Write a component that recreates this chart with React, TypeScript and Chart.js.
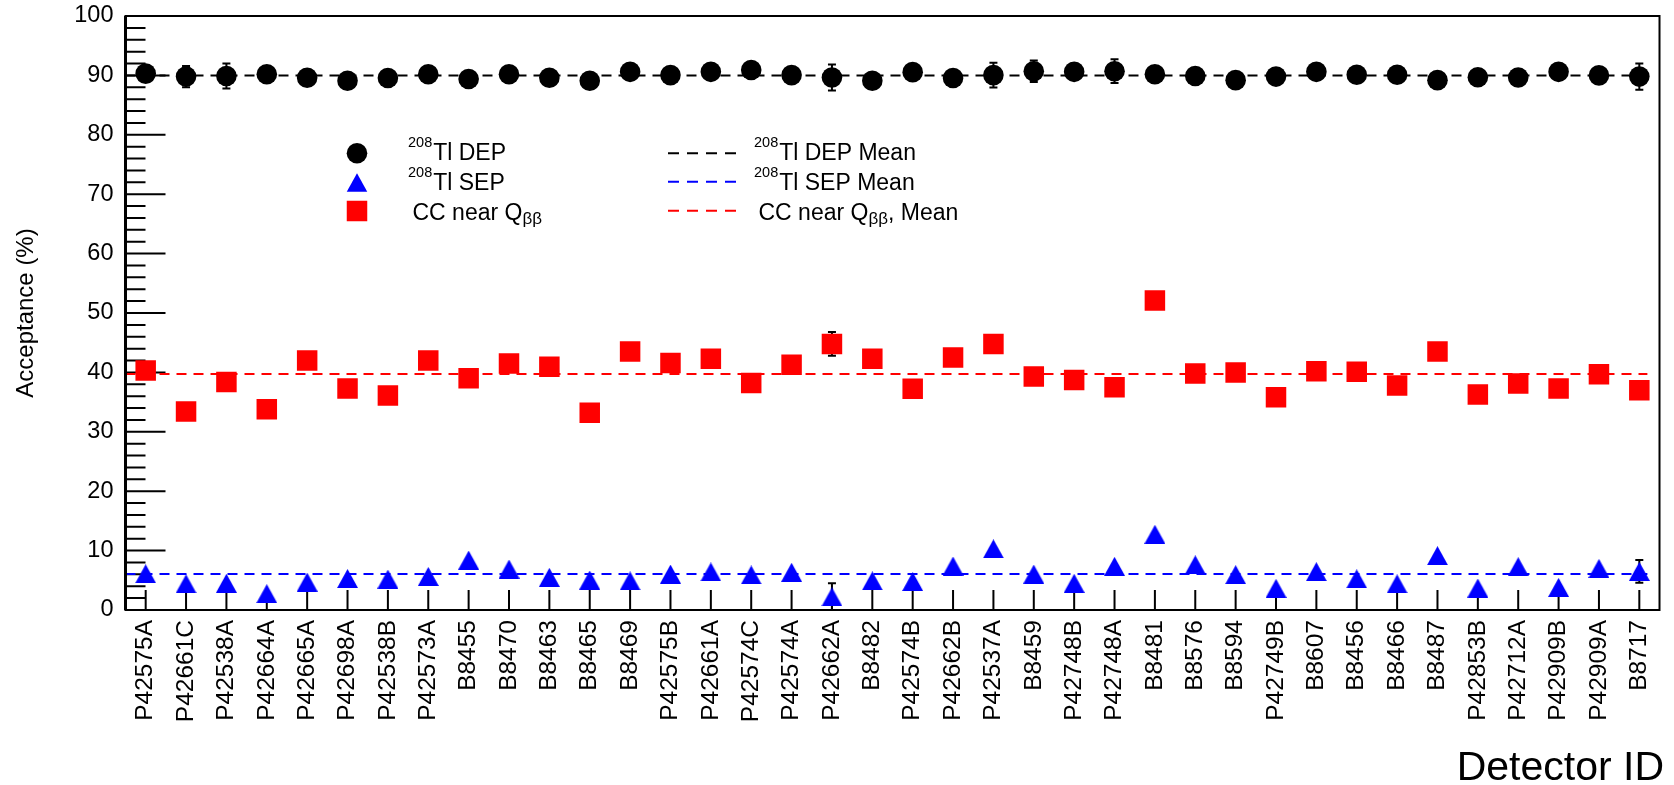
import React, { useEffect, useRef } from 'react';
import { Chart, registerables } from 'chart.js';

Chart.register(...registerables);

// Detector names along the x axis
const DETECTORS = [
  'P42575A', 'P42661C', 'P42538A', 'P42664A', 'P42665A', 'P42698A', 'P42538B', 'P42573A',
  'B8455', 'B8470', 'B8463', 'B8465', 'B8469', 'P42575B', 'P42661A', 'P42574C', 'P42574A',
  'P42662A', 'B8482', 'P42574B', 'P42662B', 'P42537A', 'B8459', 'P42748B', 'P42748A',
  'B8481', 'B8576', 'B8594', 'P42749B', 'B8607', 'B8456', 'B8466', 'B8487', 'P42853B',
  'P42712A', 'P42909B', 'P42909A', 'B8717',
];

// 208Tl double escape peak acceptance (%)
const DEP = [
  90.3, 89.8, 89.9, 90.2, 89.6, 89.1, 89.55, 90.2, 89.4, 90.2,
  89.6, 89.1, 90.6, 90.05, 90.6, 90.9, 90.05, 89.65, 89.1, 90.55,
  89.55, 90.05, 90.7, 90.6, 90.7, 90.2, 89.9, 89.2, 89.8, 90.6,
  90.1, 90.1, 89.2, 89.7, 89.65, 90.6, 90.0, 89.8,
];
const DEP_ERR = [
  0, 1.8, 2.1, 0, 0, 0, 0, 0, 0, 0,
  0, 0, 0, 0, 0, 0, 0, 2.2, 0, 0,
  0, 2.1, 1.8, 0, 2.0, 0, 0, 0, 0, 0,
  0, 0, 0, 0, 0, 0, 0, 2.2,
];

// 208Tl single escape peak acceptance (%)
const SEP = [
  6.1, 4.4, 4.5, 2.75, 4.7, 5.3, 5.2, 5.65, 8.4, 6.9,
  5.5, 5.05, 4.9, 6.05, 6.4, 5.9, 6.35, 2.2, 4.9, 4.8,
  7.4, 10.3, 6.05, 4.5, 7.35, 12.75, 7.6, 5.95, 3.65, 6.45,
  5.25, 4.4, 9.15, 3.7, 7.3, 3.8, 7.0, 6.5,
];
const SEP_ERR = [
  0, 0, 0, 0, 0, 0, 0, 0, 0, 0,
  0, 0, 0, 0, 0, 0, 0, 2.3, 0, 0,
  0, 0, 0, 0, 0, 0, 0, 0, 0, 0,
  0, 0, 0, 0, 0, 0, 0, 1.9,
];

// Compton continuum near Q_bb acceptance (%)
const CC = [
  40.3, 33.4, 38.4, 33.8, 42.0, 37.3, 36.1, 42.0, 39.0, 41.5,
  40.95, 33.2, 43.5, 41.6, 42.3, 38.2, 41.3, 44.8, 42.3, 37.25,
  42.5, 44.8, 39.3, 38.7, 37.5, 52.1, 39.8, 40.0, 35.8, 40.2,
  40.1, 37.8, 43.5, 36.3, 38.15, 37.3, 39.7, 37.0,
];
const CC_ERR = [
  0, 0, 0, 0, 0, 0, 0, 0, 0, 0,
  0, 0, 0, 0, 0, 0, 0, 2.0, 0, 0,
  0, 0, 0, 0, 0, 0, 0, 0, 0, 0,
  0, 0, 0, 0, 0, 0, 0, 0,
];

// Mean acceptances and the x range their lines span
const DEP_MEAN = 89.98;
const SEP_MEAN = 6.06;
const CC_MEAN = 39.72;
const MEAN_SPAN = [-0.5, 37.2];

// Legend entries: superscript, main text, subscript, trailing text
const LEGEND_MARKERS = [
  { sup: '208', main: 'Tl DEP', sub: '', tail: '' },
  { sup: '208', main: 'Tl SEP', sub: '', tail: '' },
  { sup: '', main: 'CC near Q', sub: 'ββ', tail: '' },
];
const LEGEND_LINES = [
  { sup: '208', main: 'Tl DEP Mean', sub: '', tail: '' },
  { sup: '208', main: 'Tl SEP Mean', sub: '', tail: '' },
  { sup: '', main: 'CC near Q', sub: 'ββ', tail: ', Mean' },
];

const X_TITLE = 'Detector ID';
const Y_TITLE = 'Acceptance (%)';

const FAMILY = '"Liberation Sans", Arial, Helvetica, sans-serif';
const BLACK = '#000000';
const BLUE = '#0000ff';
const RED = '#ff0000';

const CIRCLE_R = 10.3;
const TRI_W = 20.5;
const TRI_H = 18.5;
const SQUARE = 20.5;

function makeTriangle(w: number, h: number, color: string) {
  const c = document.createElement('canvas');
  c.width = Math.ceil(w);
  c.height = Math.ceil(h);
  const g = c.getContext('2d')!;
  g.fillStyle = color;
  g.beginPath();
  g.moveTo(c.width / 2, 0);
  g.lineTo(c.width, c.height);
  g.lineTo(0, c.height);
  g.closePath();
  g.fill();
  return c;
}

type Entry = { sup: string; main: string; sub: string; tail: string };

function drawRichText(ctx: CanvasRenderingContext2D, e: Entry, x: number, base: number) {
  let cx = x;
  ctx.textAlign = 'left';
  ctx.textBaseline = 'alphabetic';
  ctx.fillStyle = BLACK;
  if (e.sup) {
    ctx.font = `14.5px ${FAMILY}`;
    ctx.fillText(e.sup, cx, base - 13);
    cx += ctx.measureText(e.sup).width + 1;
  }
  ctx.font = `23px ${FAMILY}`;
  ctx.fillText(e.main, cx, base);
  cx += ctx.measureText(e.main).width;
  if (e.sub) {
    ctx.font = `17px ${FAMILY}`;
    ctx.fillText(e.sub, cx, base + 3.5);
    cx += ctx.measureText(e.sub).width;
  }
  if (e.tail) {
    ctx.font = `23px ${FAMILY}`;
    ctx.fillText(e.tail, cx, base);
  }
}

const decorations = {
  id: 'decorations',
  beforeDatasetsDraw(chart: any) {
    const { ctx, chartArea: a, scales } = chart;
    const xs = scales.x;
    const ys = scales.y;
    ctx.save();
    ctx.strokeStyle = BLACK;
    ctx.lineWidth = 2;
    ctx.beginPath();
    // y axis ticks: major every 10, minor every 2, drawn inwards
    for (let v = 0; v <= 100; v += 2) {
      const py = ys.getPixelForValue(v);
      const len = v % 10 === 0 ? 40 : 20;
      ctx.moveTo(a.left, py);
      ctx.lineTo(a.left + len, py);
    }
    // x axis ticks at each detector
    DETECTORS.forEach((_, i) => {
      const px = xs.getPixelForValue(i);
      ctx.moveTo(px, a.bottom);
      ctx.lineTo(px, a.bottom - 20);
    });
    ctx.stroke();

    // error bars
    const series: [number[], number[]][] = [[DEP, DEP_ERR], [SEP, SEP_ERR], [CC, CC_ERR]];
    ctx.beginPath();
    series.forEach(([vals, errs]) => {
      vals.forEach((v, i) => {
        const e = errs[i];
        if (!e) return;
        const px = xs.getPixelForValue(i);
        const top = ys.getPixelForValue(v + e);
        const bot = ys.getPixelForValue(Math.max(v - e, 0));
        ctx.moveTo(px, top);
        ctx.lineTo(px, bot);
        ctx.moveTo(px - 4, top);
        ctx.lineTo(px + 4, top);
        ctx.moveTo(px - 4, bot);
        ctx.lineTo(px + 4, bot);
      });
    });
    ctx.stroke();
    ctx.restore();
  },
  afterDatasetsDraw(chart: any) {
    const { ctx, chartArea: a } = chart;
    ctx.save();
    ctx.strokeStyle = BLACK;
    ctx.lineWidth = 2;
    ctx.strokeRect(a.left, a.top, a.right - a.left, a.bottom - a.top);
    ctx.lineWidth = 3;
    ctx.beginPath();
    ctx.moveTo(a.left, a.top);
    ctx.lineTo(a.left, a.bottom);
    ctx.stroke();
    ctx.restore();
  },
  afterDraw(chart: any) {
    const { ctx, chartArea: a } = chart;
    ctx.save();

    // legend: marker column
    const markerX = 357;
    const rowY = [153.3, 182.5, 211];
    const rowBase = [159.5, 189.5, 220];
    ctx.fillStyle = BLACK;
    ctx.beginPath();
    ctx.arc(markerX, rowY[0], CIRCLE_R, 0, Math.PI * 2);
    ctx.fill();
    ctx.fillStyle = BLUE;
    ctx.beginPath();
    ctx.moveTo(markerX, rowY[1] - TRI_H / 2);
    ctx.lineTo(markerX + TRI_W / 2, rowY[1] + TRI_H / 2);
    ctx.lineTo(markerX - TRI_W / 2, rowY[1] + TRI_H / 2);
    ctx.closePath();
    ctx.fill();
    ctx.fillStyle = RED;
    ctx.fillRect(markerX - SQUARE / 2, rowY[2] - SQUARE / 2, SQUARE, SQUARE);
    LEGEND_MARKERS.forEach((e, i) => drawRichText(ctx, e, e.sup ? 408 : 412.5, rowBase[i]));

    // legend: mean line column
    const lineColors = [BLACK, BLUE, RED];
    const lineY = [153.3, 181.7, 210.7];
    ctx.lineWidth = 2;
    ctx.setLineDash([11, 8]);
    lineColors.forEach((c, i) => {
      ctx.strokeStyle = c;
      ctx.beginPath();
      ctx.moveTo(668, lineY[i]);
      ctx.lineTo(736, lineY[i]);
      ctx.stroke();
    });
    ctx.setLineDash([]);
    LEGEND_LINES.forEach((e, i) => drawRichText(ctx, e, e.sup ? 754 : 758.5, rowBase[i]));

    // axis titles
    ctx.fillStyle = BLACK;
    ctx.font = `41px ${FAMILY}`;
    ctx.textAlign = 'right';
    ctx.textBaseline = 'alphabetic';
    ctx.fillText(X_TITLE, 1664, 780);

    ctx.translate(32.7, (a.top + a.bottom) / 2);
    ctx.rotate(-Math.PI / 2);
    ctx.font = `24px ${FAMILY}`;
    ctx.textAlign = 'center';
    ctx.fillText(Y_TITLE, 0, 0);
    ctx.restore();
  },
};

export default function App() {
  const canvasRef = useRef<HTMLCanvasElement | null>(null);

  useEffect(() => {
    const canvas = canvasRef.current;
    if (!canvas) return;
    const triangle = makeTriangle(TRI_W, TRI_H, BLUE);
    const points = (vals: number[]) => vals.map((y, x) => ({ x, y }));
    const meanLine = (m: number) => MEAN_SPAN.map((x) => ({ x, y: m }));

    const chart = new Chart(canvas, {
      type: 'scatter',
      data: {
        datasets: [
          {
            label: 'DEP',
            data: points(DEP),
            pointStyle: 'circle',
            pointRadius: CIRCLE_R,
            backgroundColor: BLACK,
            borderWidth: 0,
          },
          {
            label: 'SEP',
            data: points(SEP),
            pointStyle: triangle as any,
            pointRadius: 10,
            backgroundColor: BLUE,
            borderWidth: 0,
          },
          {
            label: 'CC',
            data: points(CC),
            pointStyle: 'rect',
            pointRadius: SQUARE / Math.SQRT2,
            backgroundColor: RED,
            borderWidth: 0,
          },
          {
            label: 'DEP Mean',
            data: meanLine(DEP_MEAN),
            showLine: true,
            pointRadius: 0,
            borderColor: BLACK,
            borderWidth: 2,
            borderDash: [10, 7],
          },
          {
            label: 'SEP Mean',
            data: meanLine(SEP_MEAN),
            showLine: true,
            pointRadius: 0,
            borderColor: BLUE,
            borderWidth: 2,
            borderDash: [10, 7],
          },
          {
            label: 'CC Mean',
            data: meanLine(CC_MEAN),
            showLine: true,
            pointRadius: 0,
            borderColor: RED,
            borderWidth: 2,
            borderDash: [10, 7],
          },
        ] as any,
      },
      options: {
        animation: false,
        responsive: false,
        devicePixelRatio: 1,
        events: [],
        layout: { padding: { top: 16, right: 4, left: 0, bottom: 0 } },
        plugins: {
          legend: { display: false },
          tooltip: { enabled: false },
        },
        scales: {
          x: {
            type: 'linear',
            min: -0.5,
            max: 37.5,
            afterBuildTicks: (s: any) => {
              s.ticks = DETECTORS.map((_, i) => ({ value: i }));
            },
            afterFit: (s: any) => {
              s.height = 175;
              s.paddingLeft = 0;
              s.paddingRight = 0;
            },
            grid: { display: false, drawTicks: false },
            border: { display: false },
            ticks: {
              autoSkip: false,
              minRotation: 90,
              maxRotation: 90,
              padding: 10,
              color: BLACK,
              font: { family: FAMILY, size: 24.5 },
              callback: (v: any) => DETECTORS[v] ?? '',
            },
          },
          y: {
            type: 'linear',
            min: 0,
            max: 100,
            afterFit: (s: any) => {
              s.width = 125.5;
              s.paddingTop = 0;
              s.paddingBottom = 0;
            },
            grid: { display: false, drawTicks: false },
            border: { display: false },
            ticks: {
              stepSize: 10,
              padding: 12,
              color: BLACK,
              font: { family: FAMILY, size: 23.5 },
            },
          },
        },
      } as any,
      plugins: [decorations],
    });
    return () => chart.destroy();
  }, []);

  return (
    <div style={{ position: 'fixed', left: 0, top: 0, width: 1674, height: 785, background: '#ffffff' }}>
      <canvas ref={canvasRef} width={1674} height={785} style={{ display: 'block' }} />
    </div>
  );
}
